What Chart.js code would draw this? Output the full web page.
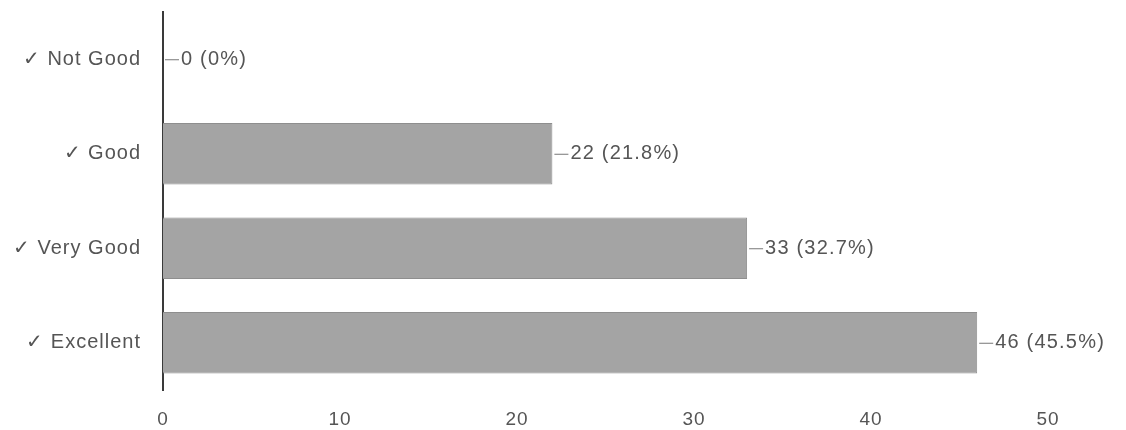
<!DOCTYPE html>
<html>
<head>
<meta charset="utf-8">
<script src="https://cdn.jsdelivr.net/npm/chart.js@4/dist/chart.umd.min.js"></script>
<style>
html,body{margin:0;padding:0;background:#fff;}
#wrap{width:1126px;height:430px;position:relative;}
</style>
</head>
<body>
<div id="wrap"><canvas id="c" width="1126" height="430"></canvas></div>
<script>
const categories = ["✓ Not Good", "✓ Good", "✓ Very Good", "✓ Excellent"];
const counts = [0, 22, 33, 46];
const percents = ["0%", "21.8%", "32.7%", "45.5%"];
const xTicks = [0, 10, 20, 30, 40, 50];

const FONT = "'Liberation Sans', Arial, sans-serif";

const spacing = {
  id: 'spacing',
  beforeDraw(chart) { chart.ctx.letterSpacing = '1px'; }
};

const valueLabels = {
  id: 'valueLabels',
  afterDatasetsDraw(chart) {
    const ctx = chart.ctx;
    const meta = chart.getDatasetMeta(0);
    ctx.save();
    ctx.letterSpacing = '1.2px';
    ctx.font = "20px " + FONT;
    ctx.fillStyle = "#555";
    ctx.strokeStyle = "#777";
    ctx.lineWidth = 1;
    ctx.textBaseline = "middle";
    ctx.textAlign = "left";
    meta.data.forEach((bar, i) => {
      const x = bar.x;
      const y = bar.y;
      ctx.beginPath();
      ctx.moveTo(x + 2, y + 0.5);
      ctx.lineTo(x + 16, y + 0.5);
      ctx.stroke();
      ctx.fillText(counts[i] + " (" + percents[i] + ")", x + 18, y);
    });
    ctx.restore();
  }
};

new Chart(document.getElementById('c'), {
  type: 'bar',
  data: {
    labels: categories,
    datasets: [{
      data: counts,
      backgroundColor: '#a4a4a4',
      borderColor: '#8e8e8e',
      borderWidth: 1,
      borderSkipped: 'start',
      categoryPercentage: 0.65,
      barPercentage: 1.0
    }]
  },
  options: {
    indexAxis: 'y',
    responsive: false,
    animation: false,
    layout: { padding: { top: 12, right: 78, bottom: 0, left: 0 } },
    plugins: { legend: { display: false }, tooltip: { enabled: false } },
    scales: {
      x: {
        min: 0, max: 50,
        afterBuildTicks(scale) { scale.ticks = xTicks.map(v => ({ value: v })); },
        afterFit(scale) { scale.height = 40; scale.paddingLeft = 0; scale.paddingRight = 0; },
        grid: { display: false, drawTicks: false },
        border: { display: false },
        ticks: { color: '#555', font: { family: FONT, size: 19 }, padding: 18 }
      },
      y: {
        afterFit(scale) { scale.width = 163; scale.paddingTop = 0; scale.paddingBottom = 0; },
        grid: { display: false, drawTicks: false },
        border: { display: true, color: '#3a3a3a', width: 2 },
        ticks: { color: '#555', font: { family: FONT, size: 20 }, padding: 22 }
      }
    }
  },
  plugins: [spacing, valueLabels]
});
</script>
</body>
</html>
